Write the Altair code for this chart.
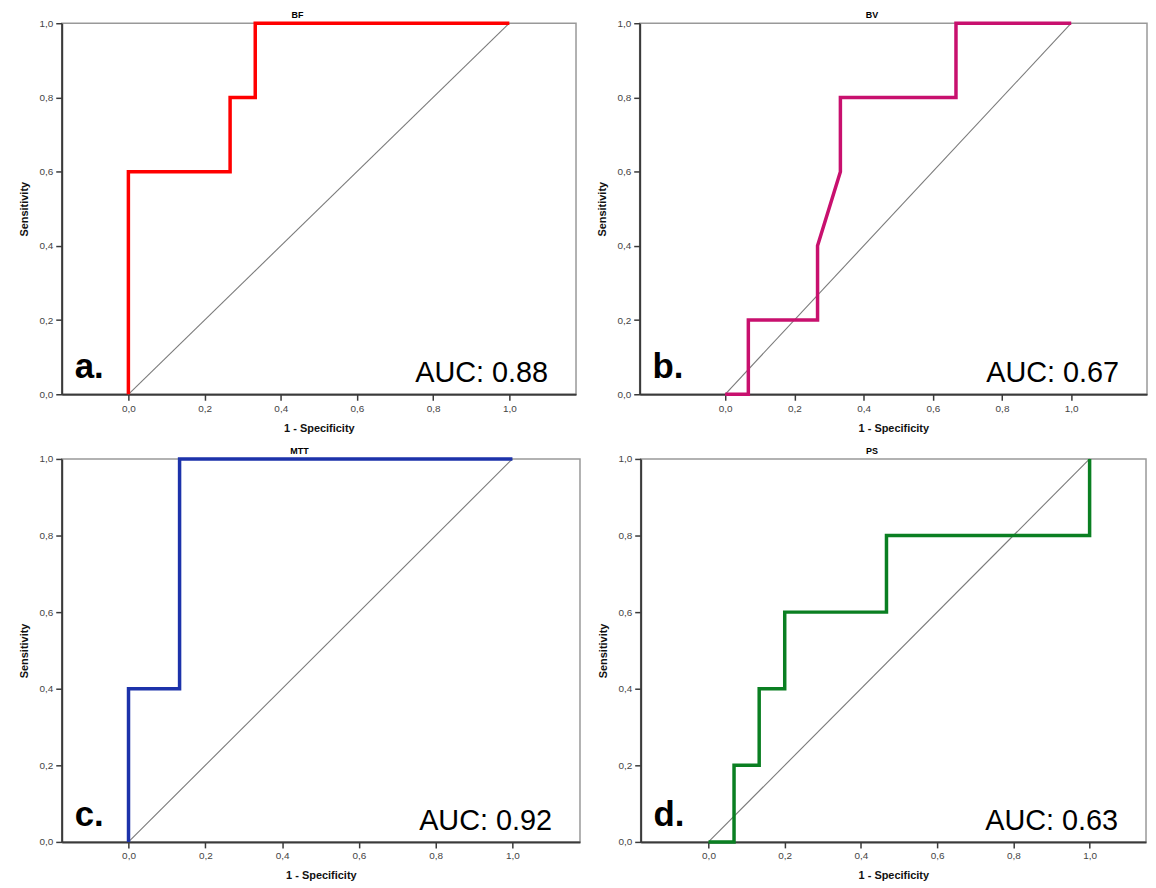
import altair as alt
import pandas as pd

# ---- data ----
ticks = [0.0, 0.2, 0.4, 0.6, 0.8, 1.0]
chance_x = [0.0, 1.0]
chance_y = [0.0, 1.0]

bf_x = [0.0, 0.0, 0.267, 0.267, 0.333, 0.333, 1.0]
bf_y = [0.0, 0.6, 0.6, 0.8, 0.8, 1.0, 1.0]

bv_x = [0.0, 0.067, 0.067, 0.267, 0.267, 0.333, 0.333, 0.667, 0.667, 1.0]
bv_y = [0.0, 0.0, 0.2, 0.2, 0.4, 0.6, 0.8, 0.8, 1.0, 1.0]

mtt_x = [0.0, 0.0, 0.133, 0.133, 1.0]
mtt_y = [0.0, 0.4, 0.4, 1.0, 1.0]

ps_x = [0.0, 0.067, 0.067, 0.133, 0.133, 0.2, 0.2, 0.467, 0.467, 1.0, 1.0]
ps_y = [0.0, 0.0, 0.2, 0.2, 0.4, 0.4, 0.6, 0.6, 0.8, 0.8, 1.0]

titles = ["BF", "BV", "MTT", "PS"]
letters = ["a.", "b.", "c.", "d."]
aucs = ["AUC: 0.88", "AUC: 0.67", "AUC: 0.92", "AUC: 0.63"]
colors = ["#ff0000", "#c8106e", "#1c32aa", "#0a7f22"]

FONT = "Liberation Sans"


def panel(title, xs, ys, color, letter, auc, xdom, w, h):
    df = pd.DataFrame({"x": xs, "y": ys, "i": list(range(len(xs)))})
    diag_df = pd.DataFrame({"x": chance_x, "y": chance_y})
    txt_df = pd.DataFrame({"letter": [letter], "auc": [auc]})
    xenc = alt.X("x:Q", scale=alt.Scale(domain=xdom, nice=False, zero=False),
                 axis=alt.Axis(values=ticks, title="1 - Specificity"))
    yenc = alt.Y("y:Q", scale=alt.Scale(domain=[0, 1], nice=False, zero=False),
                 axis=alt.Axis(values=ticks, title="Sensitivity"))
    diag = alt.Chart(diag_df).mark_line(color="#7a7a7a", strokeWidth=1.1).encode(x=xenc, y=yenc)
    curve = alt.Chart(df).mark_line(color=color, strokeWidth=3.5, strokeJoin="miter").encode(
        x=xenc, y=yenc, order="i:Q")
    lt = alt.Chart(txt_df).mark_text(align="left", baseline="alphabetic", fontSize=35,
                                     fontWeight="bold", font=FONT, color="#000").encode(
        x=alt.value(13), y=alt.value(h - 16), text="letter:N")
    at = alt.Chart(txt_df).mark_text(align="right", baseline="alphabetic", fontSize=29,
                                     font=FONT, color="#000").encode(
        x=alt.value(w - 28), y=alt.value(h - 12), text="auc:N")
    return alt.layer(diag, curve, lt, at).properties(
        width=w, height=h,
        title=alt.TitleParams(title, offset=-4, anchor="middle", frame="bounds"))


a = panel(titles[0], bf_x, bf_y, colors[0], letters[0], aucs[0], [-0.175, 1.175], 517, 373)
b = panel(titles[1], bv_x, bv_y, colors[1], letters[1], aucs[1], [-0.247, 1.219], 510, 373)
c = panel(titles[2], mtt_x, mtt_y, colors[2], letters[2], aucs[2], [-0.174, 1.176], 521, 385)
d = panel(titles[3], ps_x, ps_y, colors[3], letters[3], aucs[3], [-0.178, 1.148], 508, 385)

row1 = alt.hconcat(a, b, spacing=19)
row2 = alt.hconcat(c, d, spacing=16)

chart = alt.vconcat(row1, row2, spacing=12).properties(
    padding={"left": 10, "top": 0, "right": 0, "bottom": 0}
).configure_axis(
    grid=False,
    domainColor="#3a3a3a", domainWidth=2,
    tickColor="#3a3a3a", tickWidth=1.5, tickSize=6,
    labelFont=FONT, labelFontSize=10, labelColor="#444", labelPadding=3,
    labelExpr="replace(format(datum.value, '.1f'), '.', ',')",
    titleFont=FONT, titleFontSize=11, titleFontWeight="bold", titleColor="#111",
    titlePadding=9,
).configure_view(
    stroke="#999", strokeWidth=1.5
).configure_title(
    font=FONT, fontSize=9, fontWeight="bold", color="#000"
)

chart.save("out.html", embed_options={"renderer": "svg", "actions": False})
